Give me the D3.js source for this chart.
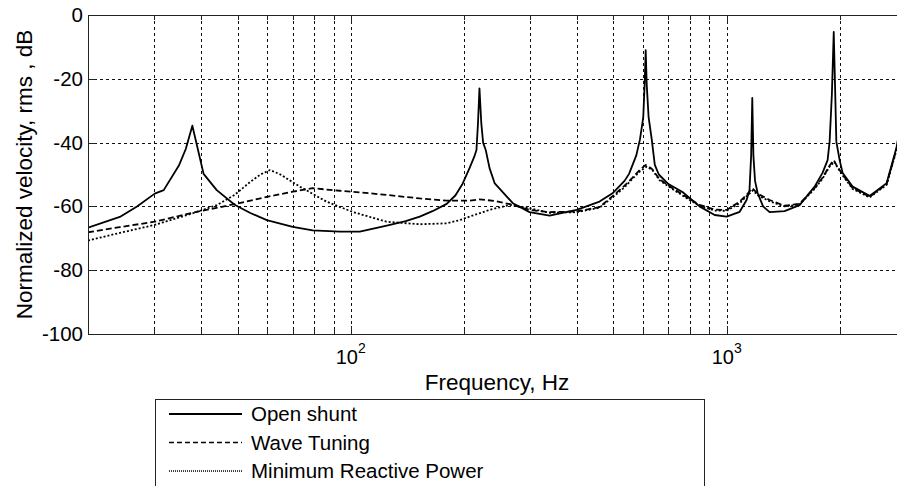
<!DOCTYPE html>
<html>
<head>
<meta charset="utf-8">
<script src="https://cdn.jsdelivr.net/npm/d3@7"></script>
<style>
  body { margin: 0; background: #fff; }
  text { font-family: "Liberation Sans", Arial, sans-serif; fill: #000; }
</style>
</head>
<body>
<div id="chart"></div>
<script>
const FRAME_WIDTH = 897;
const FRAME_HEIGHT = 486;
const MARGINS = {left: 88, right: -9, top: 15, bottom: 152};

// data
const openFreq = [20, 24.3, 27, 30.1, 31.8, 34.9, 36.4, 37.9, 40.6, 44, 49.1, 53.9, 59.8, 70.1, 79.2, 93.5, 105.7, 124.7, 140, 152.6, 165, 180, 190,
  198.6, 207, 213, 216, 218, 220, 222.5, 225, 228.6, 234, 241.6, 269.9, 299, 338, 399, 459, 497, 535, 550, 562, 575, 588, 595,
  600, 605, 609, 613, 620, 632, 644, 660, 700, 763, 847, 929, 1000, 1083, 1130, 1150, 1162, 1170, 1178, 1190, 1209,
  1250, 1301, 1426, 1563, 1714, 1799, 1856, 1879, 1905, 1927, 1945, 1958, 1998, 2035, 2163, 2400, 2665, 2831, 2950];
const openDb = [-66.7, -63.3, -60, -56, -54.9, -47.2, -42, -34.7, -49.8, -54.9, -59.5, -62, -64.3, -66.4, -67.5, -67.9, -67.9, -66, -64.6, -63.2, -61.5, -59.2, -56.5,
  -52.8, -48, -44.5, -42.3, -34, -23, -34, -40, -42.3, -48, -52.8, -59, -61.8, -62.9, -61.1, -58.5, -55.9, -52, -49.8, -47, -44, -39, -35,
  -32, -22, -11, -22, -32, -39, -47, -50, -53, -55.5, -60, -62.7, -63.2, -61.7, -58, -55, -44, -26, -44, -52, -55.8,
  -60, -61.8, -61.5, -59.6, -53.8, -49.5, -45.5, -39.7, -25, -5.3, -25, -39.7, -45.5, -49.5, -53.8, -56.7, -52.7, -41.5, -30];

const waveFreq = [20, 24.3, 30.1, 37.9, 49.1, 59.8, 70.1, 79.2, 93.5, 105.7, 124.7, 152.6, 180, 207, 220, 241.6, 265, 299, 338, 399,
  459, 497, 535, 562, 588, 609, 632, 663, 718, 780, 847, 929, 1000, 1083, 1130, 1170, 1209, 1301, 1426, 1563,
  1714, 1799, 1879, 1927, 1958, 2035, 2163, 2400, 2665, 2831, 2950];
const waveDb = [-68.1, -66.5, -64.8, -62, -59.3, -57, -55.4, -54.3, -55.1, -55.6, -56.4, -57.5, -58.2, -58.2, -57.8, -58.3, -59.3, -61.1, -61.8, -61.6,
  -60.2, -56.8, -53.5, -51, -48.5, -47, -48.2, -51.5, -54.3, -57, -59.5, -61, -61.1, -58.5, -56.4, -54.3, -56, -58, -59.8, -59.2,
  -54.2, -51, -47.2, -45.5, -47, -50, -54.2, -57, -53, -42, -30];

const mrpFreq = [20, 24.3, 30.1, 37.9, 44, 49.1, 53.9, 57.5, 61, 65, 73.2, 86.2, 101, 124.4, 152.6, 180, 195, 207, 234, 265,
  299, 338, 399, 459, 497, 535, 562, 588, 612, 635, 663, 718, 780, 847, 929, 1000, 1083, 1130, 1175, 1209,
  1301, 1426, 1563, 1714, 1799, 1879, 1935, 1965, 2035, 2163, 2400, 2665, 2831, 2950];
const mrpDb = [-70.7, -68.3, -65.8, -62.2, -59.6, -56.4, -52.4, -50, -48.6, -50, -53.8, -58.5, -61.7, -64.8, -65.6, -65.3, -64.3, -63.2, -61.1, -59.5,
  -60.6, -62, -61.8, -60.4, -57.2, -54, -51.3, -49, -47.6, -48.6, -51.8, -54.6, -57.3, -59.8, -61.3, -61.4, -59, -56.8, -55, -56.5,
  -58.4, -60, -59.4, -54.5, -51.3, -47.5, -46, -47.5, -50.3, -54.5, -57.2, -53.2, -42.3, -30.5];

const seriesNames = ["Open shunt", "Wave Tuning", "Minimum Reactive Power"];
const yTicks = [0, -20, -40, -60, -80, -100];
const xMajor = [100, 1000];
const xMinor = [30, 40, 50, 60, 70, 80, 90, 200, 300, 400, 500, 600, 700, 800, 900, 2000];

const DASHES = ["none", "6,3", "2,2"];

const VIS_WIDTH = FRAME_WIDTH - MARGINS.left - MARGINS.right;
const VIS_HEIGHT = FRAME_HEIGHT - MARGINS.top - MARGINS.bottom;

const FRAME1 = d3.select("#chart")
  .append("svg")
  .attr("width", FRAME_WIDTH)
  .attr("height", FRAME_HEIGHT);

const X_SCALE = d3.scaleLog()
  .domain([20, 3000])
  .range([MARGINS.left, MARGINS.left + VIS_WIDTH]);

const Y_SCALE = d3.scaleLinear()
  .domain([-100, 0])
  .range([MARGINS.top + VIS_HEIGHT, MARGINS.top]);

const Y0 = Y_SCALE(-100), Y1 = Y_SCALE(0);
const X0 = X_SCALE(20), X1 = X_SCALE(3000);

// grid
const grid = FRAME1.append("g")
  .attr("stroke", "#111")
  .attr("stroke-width", 1)
  .attr("stroke-dasharray", "3,3")
  .attr("shape-rendering", "crispEdges");

grid.selectAll(".vgrid")
  .data(xMajor.concat(xMinor))
  .enter()
  .append("line")
  .attr("x1", d => Math.round(X_SCALE(d)) + 0.5)
  .attr("x2", d => Math.round(X_SCALE(d)) + 0.5)
  .attr("y1", Y1)
  .attr("y2", Y0);

grid.selectAll(".hgrid")
  .data(yTicks.filter(d => d != 0 && d != -100))
  .enter()
  .append("line")
  .attr("x1", X0)
  .attr("x2", X1)
  .attr("y1", d => Math.round(Y_SCALE(d)) + 0.5)
  .attr("y2", d => Math.round(Y_SCALE(d)) + 0.5);

// tick marks (inside)
const ticks = FRAME1.append("g")
  .attr("stroke", "#222")
  .attr("shape-rendering", "crispEdges");

[[xMajor, 8], [xMinor, 5]].forEach(([vals, len]) => {
  vals.forEach(v => {
    const x = Math.round(X_SCALE(v)) + 0.5;
    ticks.append("line").attr("x1", x).attr("x2", x).attr("y1", Y0).attr("y2", Y0 - len);
    ticks.append("line").attr("x1", x).attr("x2", x).attr("y1", Y1).attr("y2", Y1 + len);
  });
});
yTicks.forEach(v => {
  const y = Math.round(Y_SCALE(v)) + 0.5;
  ticks.append("line").attr("x1", X0).attr("x2", X0 + 8).attr("y1", y).attr("y2", y);
});

// lines
FRAME1.append("clipPath")
  .attr("id", "clip")
  .append("rect")
  .attr("x", X0)
  .attr("y", Y1)
  .attr("width", X1 - X0)
  .attr("height", Y0 - Y1);

const line = d3.line()
  .x(d => X_SCALE(d[0]))
  .y(d => Y_SCALE(d[1]));

const series = [d3.zip(openFreq, openDb), d3.zip(waveFreq, waveDb), d3.zip(mrpFreq, mrpDb)];

FRAME1.append("g")
  .attr("clip-path", "url(#clip)")
  .selectAll("path")
  .data(series)
  .enter()
  .append("path")
  .attr("d", line)
  .attr("fill", "none")
  .attr("stroke", "#000")
  .attr("stroke-width", 1.8)
  .attr("stroke-linejoin", "round")
  .attr("stroke-dasharray", (d, i) => DASHES[i]);

// axes box
FRAME1.append("rect")
  .attr("x", X0 + 0.5)
  .attr("y", Y1 + 0.5)
  .attr("width", X1 - X0)
  .attr("height", Y0 - Y1)
  .attr("fill", "none")
  .attr("stroke", "#222")
  .attr("shape-rendering", "crispEdges");

// y tick labels
FRAME1.selectAll(".ylab")
  .data(yTicks)
  .enter()
  .append("text")
  .attr("x", X0 - 5)
  .attr("y", d => Y_SCALE(d) + 7)
  .attr("text-anchor", "end")
  .attr("font-size", "20.5px")
  .text(d => d);

// x tick labels as 10^n
xMajor.forEach(v => {
  const t = FRAME1.append("text")
    .attr("x", X_SCALE(v) - 15)
    .attr("y", 364)
    .attr("font-size", "20px");
  t.append("tspan").text("10");
  t.append("tspan").attr("dy", -11).attr("font-size", "14px").text(Math.round(Math.log10(v)));
});

// axis titles
FRAME1.append("text")
  .attr("x", 497)
  .attr("y", 390)
  .attr("text-anchor", "middle")
  .attr("font-size", "22.5px")
  .text("Frequency, Hz");

FRAME1.append("text")
  .attr("transform", "translate(32," + ((Y1 + Y0) / 2) + ") rotate(-90)")
  .attr("text-anchor", "middle")
  .attr("font-size", "22.5px")
  .text("Normalized velocity, rms , dB");

// legend
const LEG = FRAME1.append("g").attr("transform", "translate(155,399)");
LEG.append("rect")
  .attr("x", 0.5)
  .attr("y", 0.5)
  .attr("width", 549)
  .attr("height", 120)
  .attr("fill", "#fff")
  .attr("stroke", "#222")
  .attr("shape-rendering", "crispEdges");

seriesNames.forEach((name, i) => {
  const y = 15 + i * 28.5;
  LEG.append("line")
    .attr("x1", 14)
    .attr("x2", 87)
    .attr("y1", y)
    .attr("y2", y)
    .attr("stroke", "#000")
    .attr("stroke-width", i == 0 ? 1.8 : 1.3)
    .attr("stroke-dasharray", i == 0 ? "none" : (i == 1 ? "5,3" : "1,1"));
  LEG.append("text")
    .attr("x", 96)
    .attr("y", y + 7)
    .attr("font-size", "20.5px")
    .text(name);
});
</script>
</body>
</html>
